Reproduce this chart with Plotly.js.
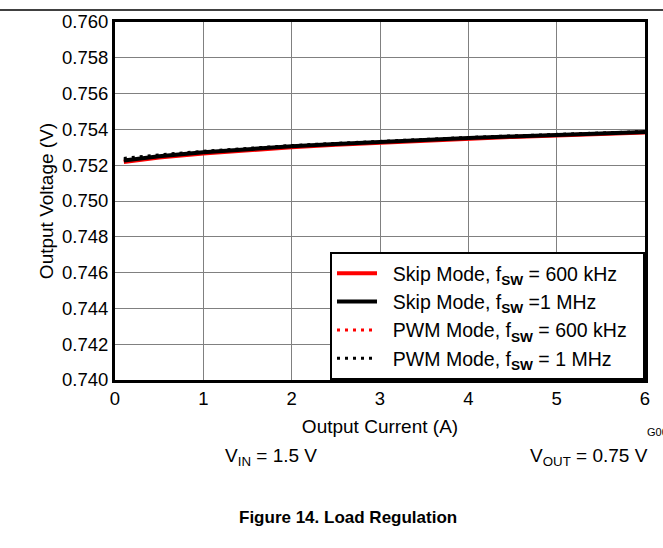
<!DOCTYPE html>
<html><head><meta charset="utf-8">
<script src="https://cdn.plot.ly/plotly-3.0.1.min.js"></script>
<style>body{margin:0;background:#fff}#chart{width:663px;height:548px}</style>
</head><body><div id="chart"></div>
<script>
const current = [0.1,0.5,1,1.5,2,2.5,3,3.5,4,4.5,5,5.5,6];
const skip600 = [0.75218,0.75243,0.75266,0.75285,0.75300,0.75314,0.75326,0.75338,0.75348,0.75358,0.75366,0.75375,0.75383];
const skip1M  = [0.75226,0.75250,0.75272,0.75290,0.75306,0.75319,0.75331,0.75342,0.75352,0.75361,0.75369,0.75377,0.75385];
const pwm600  = [0.75222,0.75246,0.75268,0.75287,0.75302,0.75316,0.75328,0.75340,0.75350,0.75360,0.75368,0.75377,0.75385];
const pwm1M   = [0.75238,0.75258,0.75278,0.75295,0.75310,0.75322,0.75334,0.75345,0.75355,0.75364,0.75372,0.75380,0.75388];
const names = ['Skip Mode, f<sub><b>SW</b></sub> = 600 kHz','Skip Mode, f<sub><b>SW</b></sub> =1 MHz','PWM Mode, f<sub><b>SW</b></sub> = 600 kHz','PWM Mode, f<sub><b>SW</b></sub> = 1 MHz'];
const xTicks = [0,1,2,3,4,5,6];
const yTicks = [0.740,0.742,0.744,0.746,0.748,0.750,0.752,0.754,0.756,0.758,0.760];
const pad = s => '\u00a0\u00a0' + s + '\u00a0\u00a0';

const traces = [
  {x:current,y:skip600,name:pad(names[0]),mode:'lines',line:{color:'#ff0000',width:4},legendrank:1},
  {x:current,y:pwm600,name:pad(names[2]),mode:'lines',line:{color:'#ff0000',width:3,dash:'3px,5px'},legendrank:3},
  {x:current,y:skip1M,name:pad(names[1]),mode:'lines',line:{color:'#000000',width:4},legendrank:2},
  {x:current,y:pwm1M,name:pad(names[3]),mode:'lines',line:{color:'#000000',width:3,dash:'3px,5px'},legendrank:4}
];
const font = {family:'Liberation Sans, Arial, sans-serif',size:18.5,color:'#000'};
const layout = {
  width:663,height:548,
  margin:{l:115,r:18,t:22,b:168},
  paper_bgcolor:'#fff',plot_bgcolor:'#fff',
  font:font,
  showlegend:true,
  legend:{x:1,y:0,xanchor:'right',yanchor:'bottom',bgcolor:'#fff',bordercolor:'#000',borderwidth:2,
    font:{family:font.family,size:19.5,color:'#000'},tracegroupgap:0,itemwidth:40},
  xaxis:{range:[0,6],tickvals:xTicks,ticktext:xTicks.map(String),showgrid:true,gridcolor:'#808080',gridwidth:1,
    showline:true,linecolor:'#000',linewidth:3,mirror:true,ticks:'',zeroline:false,
    tickfont:{size:18.5},title:{text:'Output Current (A)',font:{size:19},standoff:12}},
  yaxis:{range:[0.740,0.760],tickvals:yTicks,ticktext:yTicks.map(v=>v.toFixed(3)),showgrid:true,gridcolor:'#808080',gridwidth:1,
    showline:true,linecolor:'#000',linewidth:3,mirror:true,ticks:'',zeroline:false,
    tickfont:{size:18.5},title:{text:'Output Voltage (V)',font:{size:19},standoff:4}},
  shapes:[{type:'line',xref:'paper',yref:'paper',x0:-0.217,x1:1.034,y0:1.0335,y1:1.0335,line:{color:'#000',width:1.5}}],
  annotations:[
    {xref:'paper',yref:'paper',x:1.0,y:-0.145,xanchor:'left',yanchor:'middle',text:'G00',showarrow:false,font:{size:11}},
    {xref:'paper',yref:'paper',x:0.295,y:-0.215,xanchor:'center',yanchor:'middle',text:'V<sub>IN</sub> = 1.5 V',showarrow:false,font:{size:19}},
    {xref:'paper',yref:'paper',x:0.895,y:-0.215,xanchor:'center',yanchor:'middle',text:'V<sub>OUT</sub> = 0.75 V',showarrow:false,font:{size:19}},
    {xref:'paper',yref:'paper',x:0.44,y:-0.385,xanchor:'center',yanchor:'middle',text:'<b>Figure 14. Load Regulation</b>',showarrow:false,font:{size:17}}
  ]
};
Plotly.newPlot('chart',traces,layout,{displayModeBar:false,staticPlot:true});
</script></body></html>
